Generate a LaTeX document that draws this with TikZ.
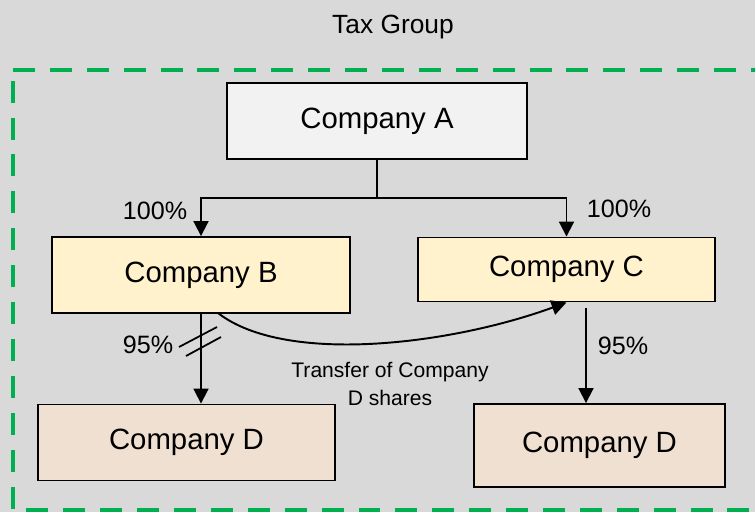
\documentclass[tikz,border=0pt]{standalone}
\usepackage{fontspec}
\setmainfont{Liberation Sans}
\usetikzlibrary{arrows.meta}

\definecolor{bgGray}{HTML}{D9D9D9}
\definecolor{groupGreen}{HTML}{00B050}
\definecolor{parentFill}{HTML}{F2F2F2}
\definecolor{subFill}{HTML}{FFF2CC}
\definecolor{grandFill}{HTML}{F0E0D2}

\tikzset{
  company/.style={draw=black, line width=1.1pt, font=\fontsize{16.7}{20}\selectfont, inner sep=0pt},
  share/.style={font=\fontsize{14.3}{17}\selectfont},
  link/.style={line width=1.1pt, -{Triangle[length=8.5pt,width=8.5pt]}}
}

\begin{document}
\begin{tikzpicture}[x=0.02cm, y=-0.02cm]

    % Background
    \fill[bgGray] (0,0) rectangle (755,512);
    \useasboundingbox (0,0) rectangle (755,512);

    % Tax group
    \node[font=\fontsize{15}{18}\selectfont, anchor=base] (title) at (393,33) {Tax Group};
    \draw[groupGreen, line width=2.8pt, dash pattern=on 12.5pt off 8.5pt] (13,70) -- (770,70) -- (770,510) -- (13,510) -- cycle;

    % Companies
    \node[company, fill=parentFill, minimum width=6cm, minimum height=1.52cm] (compA) at (377,121) {Company A};
    \node[company, fill=subFill, minimum width=5.96cm, minimum height=1.52cm] (compB) at (201,275) {Company B};
    \node[company, fill=subFill, minimum width=5.94cm, minimum height=1.28cm] (compC) at (566.5,269.5) {Company C};
    \node[company, fill=grandFill, minimum width=5.94cm, minimum height=1.52cm] (compDleft) at (186.5,442.5) {Company D};
    \node[company, fill=grandFill, minimum width=5.02cm, minimum height=1.66cm] (compDright) at (599.5,445.5) {Company D};

    % Ownership from A
    \coordinate (split) at (377,198);
    \draw[line width=1.1pt] (compA.south) -- (split);
    \draw[link] (split) -| (compB.north);
    \draw[link] (split) -| (compC.north);
    \node[share] (pctB) at (155,211) {100\%};
    \node[share] (pctC) at (619,209) {100\%};

    % Ownership of D
    \draw[link] (compB.south) -- (compB.south |- compDleft.north);
    \draw[line width=1pt] (179,347) -- (217,327);
    \draw[line width=1pt] (186,356) -- (221,337);
    \node[share] (pctDleft) at (148,345) {95\%};

    \coordinate (cOut) at (586,308);
    \draw[link] (cOut) -- (cOut |- compDright.north);
    \node[share] (pctDright) at (623,346) {95\%};

    % Transfer
    \coordinate (bOut) at (218,313);
    \draw[line width=1.1pt, -{Triangle[length=8.5pt,width=8.5pt]}] (bOut) .. controls (285,365) and (450,345) .. (compC.south);
    \node[font=\fontsize{12}{16}\selectfont, align=center] (transfer) at (390,384) {Transfer of Company\\D shares};

\end{tikzpicture}
\end{document}
